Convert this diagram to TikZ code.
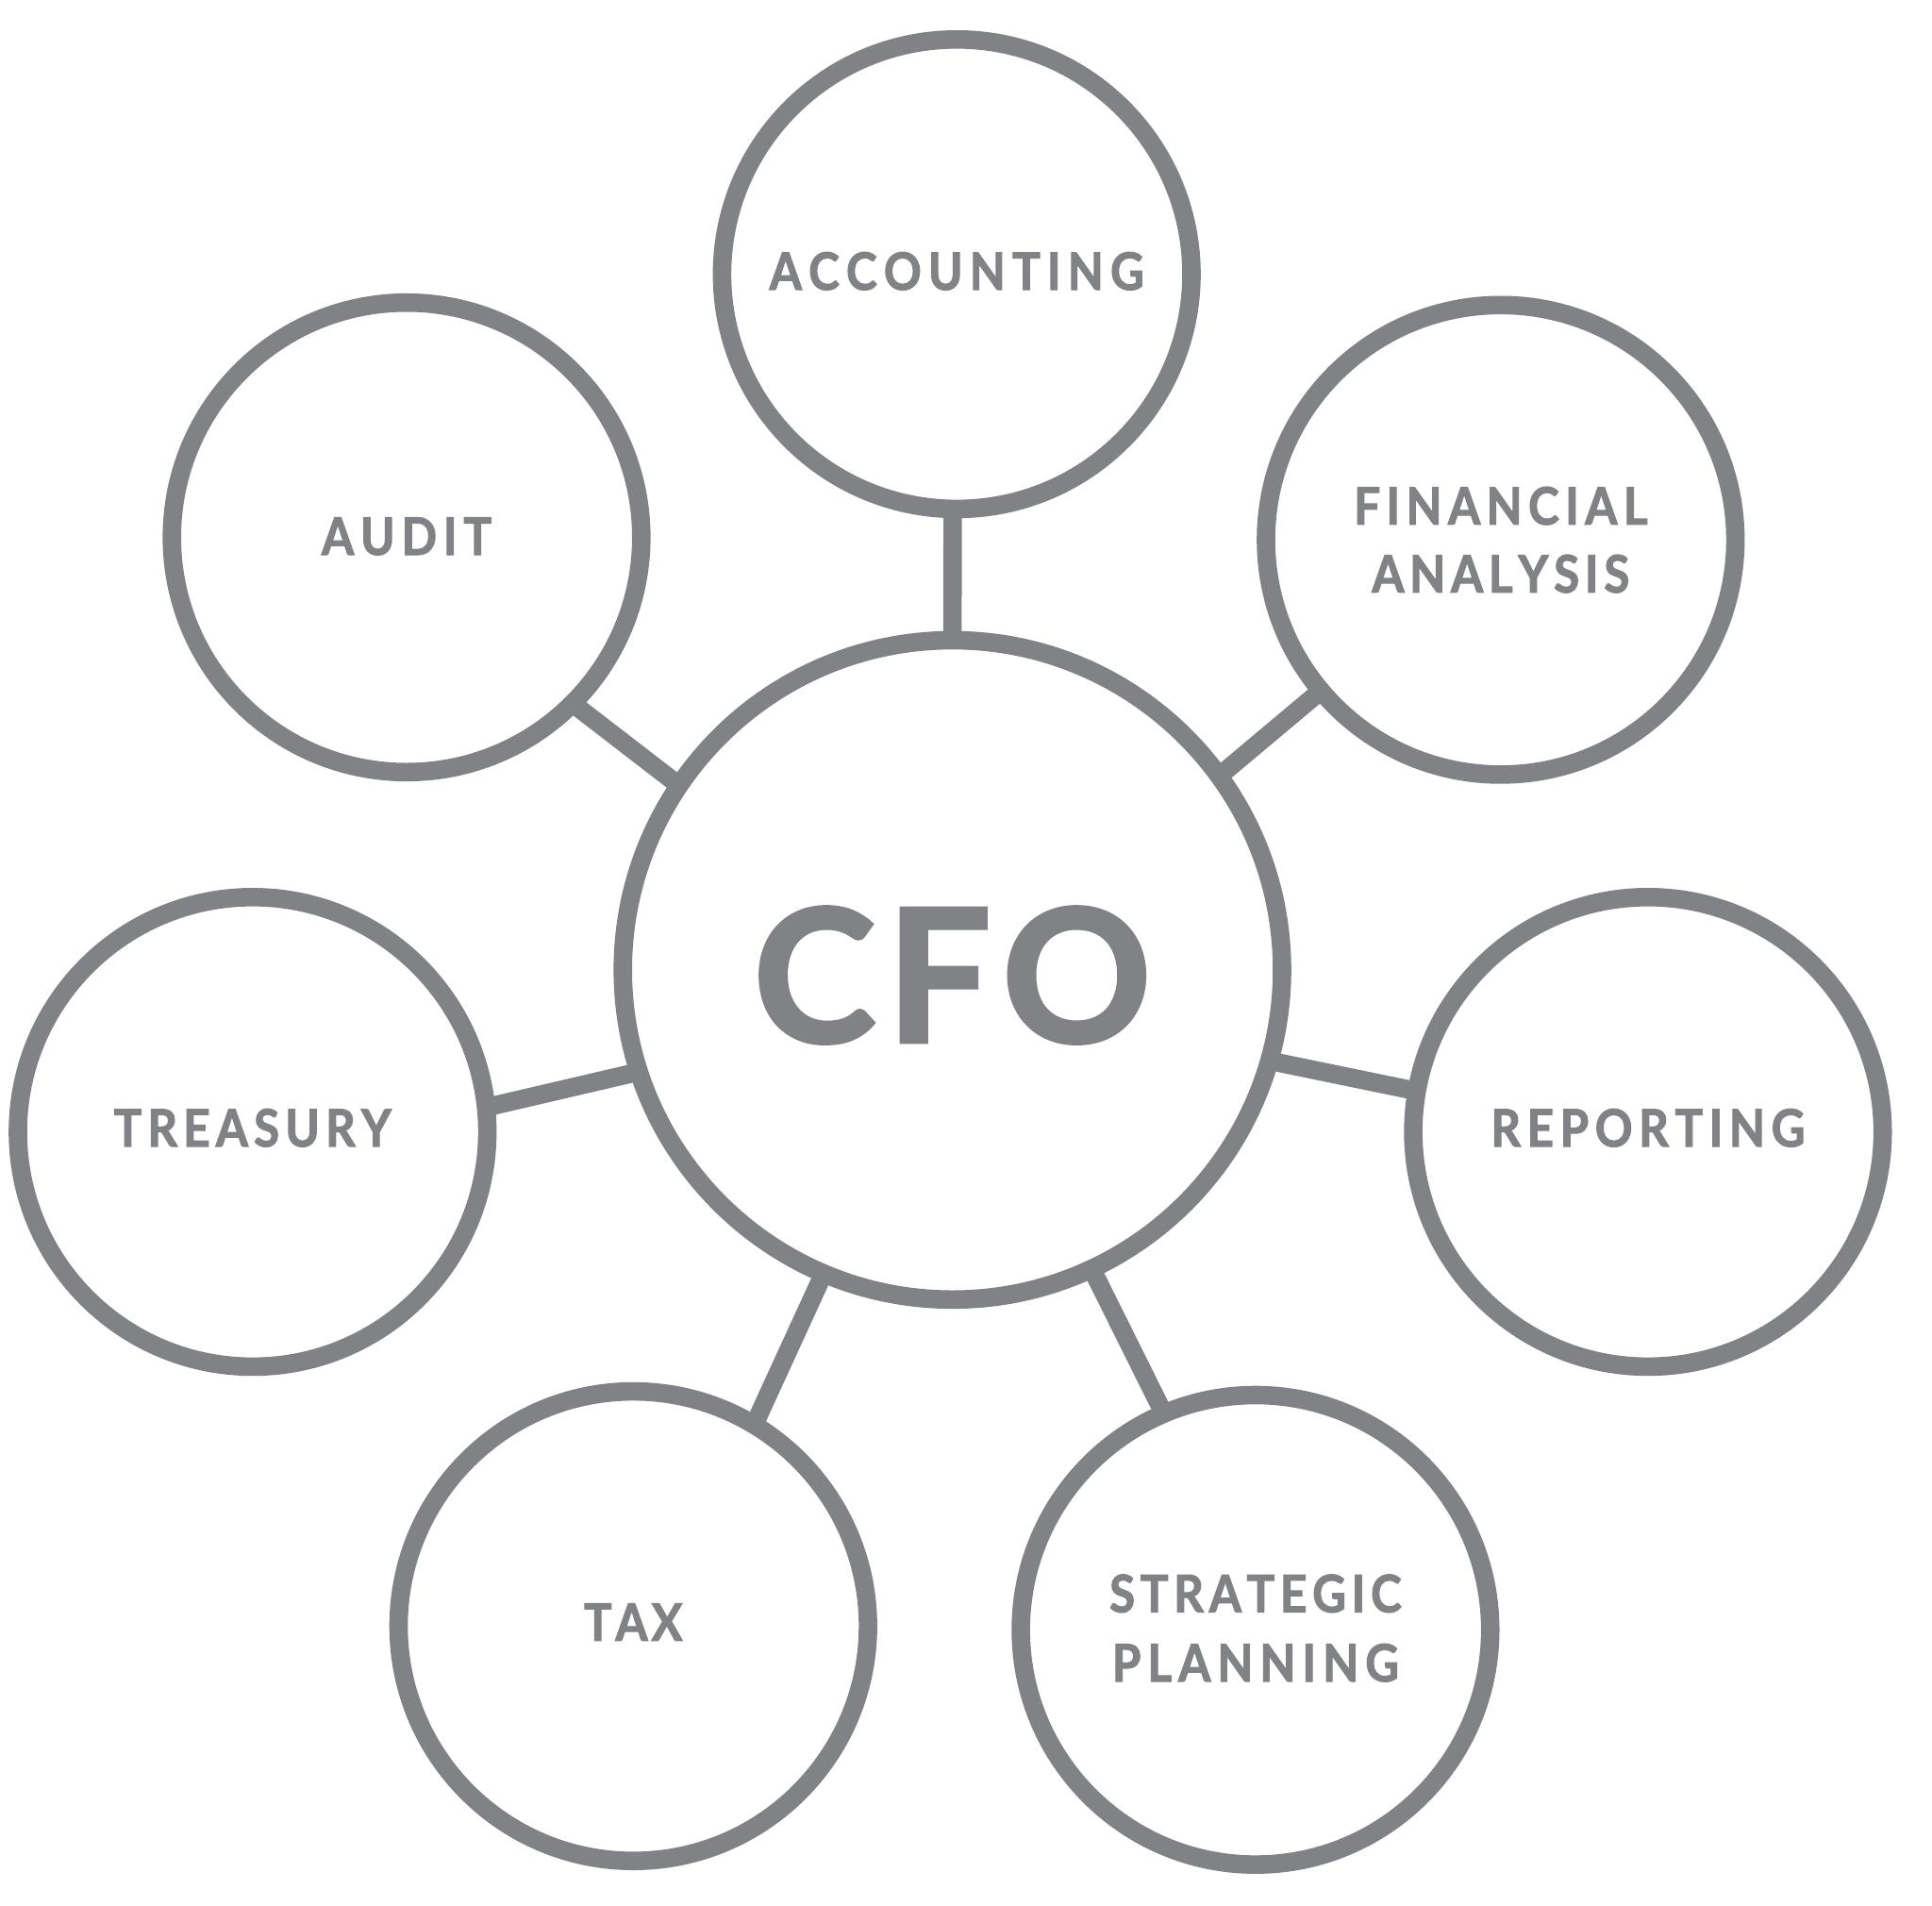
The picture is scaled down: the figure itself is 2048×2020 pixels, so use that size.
\documentclass[tikz,border=0pt]{standalone}
\usepackage{fontspec}
\usetikzlibrary{backgrounds}
\newfontfamily\lblfont{Lato}[FakeStretch=0.9, FakeBold=2]
\newfontfamily\hubfont{Lato}[FakeBold=2]
\definecolor{cfogray}{RGB}{128,130,133}
\ExplSyntaxOn
\cs_new_protected:Npn \__cfo_spread:n #1
 {
  \bool_set_true:N \l_tmpa_bool
  \tl_map_inline:nn {#1}
   {
    \bool_if:NTF \l_tmpa_bool { \bool_set_false:N \l_tmpa_bool } { \hfill }
    ##1
   }
 }
\NewDocumentCommand\spreadword{mm}
 {
  \makebox[#1][s]{ \__cfo_spread:n {#2} }
 }
\ExplSyntaxOff
\newcommand\lift[2]{\raisebox{#1}[39pt][0pt]{#2}}
\tikzset{
  bubble/.style={circle, draw=cfogray, line width=19.6pt, fill=white,
    minimum size=497.6pt, inner sep=0pt, outer sep=0pt, text=cfogray,
    align=center,
    font=\lblfont\bfseries\fontsize{54.7pt}{72pt}\selectfont},
  hub/.style={bubble, minimum size=698.8pt,
    font=\hubfont\bfseries\fontsize{196pt}{240pt}\selectfont},
  link/.style={draw=cfogray, line width=19.6pt, line cap=butt,
    shorten <=-8pt, shorten >=-8pt}
}
\begin{document}
\begin{tikzpicture}[x=1pt,y=-1pt]
\useasboundingbox (0,0) rectangle (2048,2020);
\node[hub] (cfo) at (1009.6,1027.9) {\raisebox{-6pt}[141pt][0pt]{\spreadword{422pt}{CFO}}};
\node[bubble] (acc) at (1014.2,290.6) {\lift{3pt}{\spreadword{397pt}{ACCOUNTING}}};
\node[bubble] (aud) at (431.0,569.5) {\lift{1pt}{\spreadword{180pt}{AUDIT}}};
\node[bubble] (fin) at (1590.8,572.1) {\spreadword{311pt}{FINANCIAL}\\\spreadword{273pt}{ANALYSIS}};
\node[bubble] (tre) at (267.8,1199.6) {\lift{4pt}{\spreadword{294pt}{TREASURY}}};
\node[bubble] (rep) at (1746.9,1199.6) {\lift{4pt}{\spreadword{333pt}{REPORTING}}};
\node[bubble] (tax) at (671.3,1723.4) {\lift{4pt}{\spreadword{104.5pt}{TAX}}};
\node[bubble] (str) at (1330.9,1727.3) {\raisebox{4pt}{\shortstack{\spreadword{309.5pt}{STRATEGIC}\\[30pt]\spreadword{304pt}{PLANNING}}}};
\begin{scope}[on background layer]
\fill[white] (0,0) rectangle (2048,2020);
\draw[link] (cfo.90) -- (acc.269);
\draw[link] (cfo.146) -- (aud.-45);
\draw[link] (cfo.36) -- (fin.220);
\draw[link] (cfo.-16) -- (rep.170);
\draw[link] (cfo.198) -- (tre.6);
\draw[link] (cfo.247) -- (tax.59);
\draw[link] (cfo.-65) -- (str.113);
\end{scope}
\end{tikzpicture}
\end{document}
